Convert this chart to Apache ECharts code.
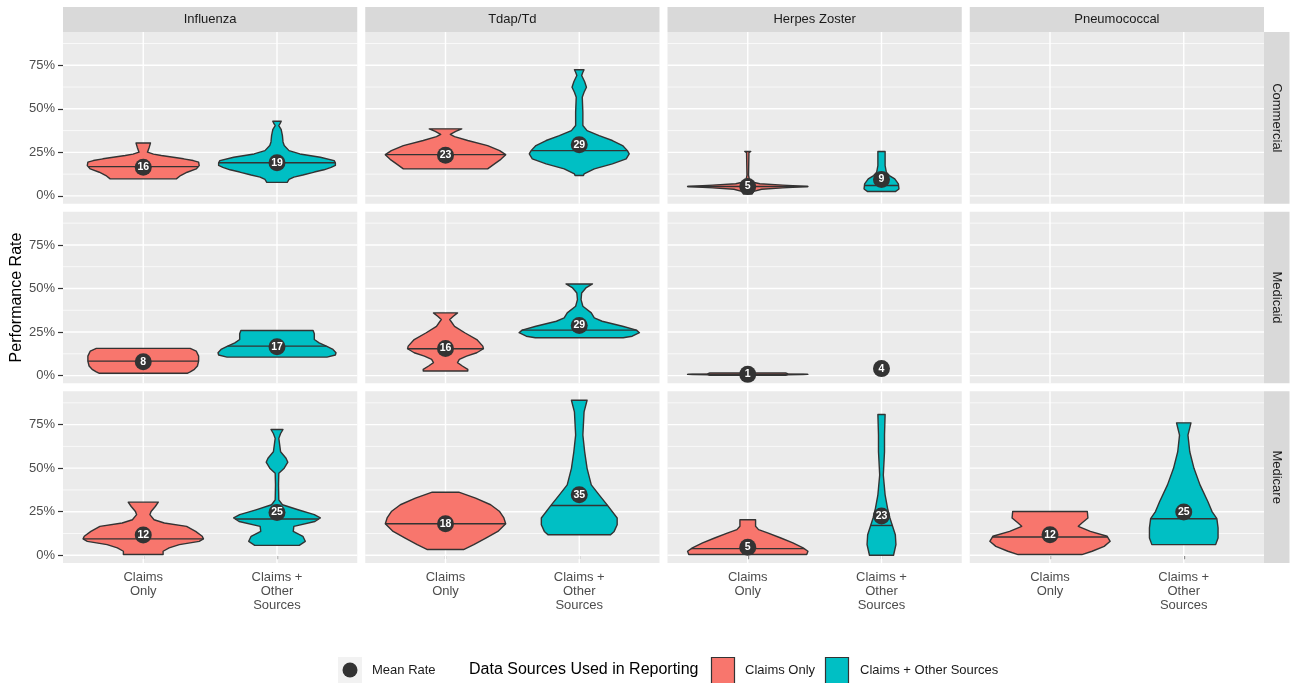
<!DOCTYPE html>
<html><head><meta charset="utf-8">
<script src="https://cdn.jsdelivr.net/npm/echarts@6/dist/echarts.min.js"></script>
<style>html,body{margin:0;padding:0;background:#fff}#c{width:1290px;height:683px}</style>
</head><body><div id="c"></div>
<script>
// ---------------- DATA ----------------
const vaccines = ['Influenza', 'Tdap/Td', 'Herpes Zoster', 'Pneumococcal'];
const payers = ['Commercial', 'Medicaid', 'Medicare'];
const sources = ['Claims Only', 'Claims + Other Sources'];
const xTickLabels = ['Claims\nOnly', 'Claims +\nOther\nSources'];
const yTicks = [0, 25, 50, 75];
const yMinorTicks = [12.5, 37.5, 62.5, 87.5];

// violin outlines: [performance rate %, relative density (100 = widest)]
const comFluClaims = [[30.4,12],[28,10],[25.1,7],[24,17],[23.2,30],[22.2,50],[21.3,67],[20.3,83],[19.4,92],[17.4,93],[15.5,88],[13.6,73],[11.7,62],[9.8,55]];
const comFluOther = [[42.9,7],[41.5,5],[40.4,3],[38,7],[34.6,9],[31,10],[28.9,12],[26,20],[24.1,38],[22.2,72],[20.3,95],[19,97],[17.5,97],[16.4,90],[15,78],[13.7,62],[12,43],[10.8,28],[9.5,20],[7.8,17]];
const comTdapClaims = [[38.5,27],[37,17],[35.3,8],[34,15],[31.8,37],[28.9,70],[26,90],[23.7,100],[21,92],[18.5,82],[15.5,70]];
const comTdapOther = [[72.4,8],[71,6],[69.1,4],[65.5,9],[62.4,12],[59.5,8],[56.7,5],[48.1,6],[40.4,6],[37.5,13],[34.6,33],[31.8,55],[28.9,72],[26,80],[24.1,83],[21.3,78],[18.4,55],[15.5,25],[12.6,8],[11.7,7]];
const comZosterClaims = [[25.5,5],[24.8,2],[12,1.3],[9.8,2.5],[8,7],[7,20],[6.2,58],[5.4,100],[4.6,58],[3.8,23],[2.6,10],[1.1,7]];
const comZosterOther = [[25.5,6],[21.3,6],[17.4,6],[13.6,8],[11.7,13],[9.8,22],[6.9,28],[4,29],[2.5,23]];

const mcdFluClaims = [[15.6,78],[14.1,88],[11.2,92],[8.3,92],[5.5,90],[3.6,85],[2.1,78],[1.3,73]];
const mcdFluOther = [[25.9,60],[24,62],[20.7,62],[18.8,70],[16.9,82],[15,93],[13.1,98],[11.8,97],[10.6,83]];
const mcdTdapClaims = [[36,20],[34.1,13],[32.2,7],[28.3,15],[24.6,32],[20.7,52],[16.9,62],[15.4,63],[13.1,52],[11.2,35],[9.3,23],[7.4,20],[5.5,28],[3.6,37],[2.6,37]];
const mcdTdapOther = [[52.6,22],[50.3,11],[47.4,4],[43.6,3],[39.8,6],[36,20],[33.1,25],[31.2,38],[28.3,72],[26.1,95],[24.6,100],[22.6,88],[21.7,73]];
const mcdZosterClaims = [[1.5,63],[1.0,67],[0.8,92],[0.7,100],[0.6,92],[0.4,67],[0.1,63]];

const mcrFluClaims = [[30.5,25],[28,20],[25.1,13],[23.3,11],[20.4,18],[18.5,35],[16.6,72],[13.7,87],[10.9,98],[9.4,100],[8,93],[6.1,60],[4.2,43],[2.3,33],[0.4,33]];
const mcrFluOther = [[72.2,10],[69.9,6],[67.1,3],[59.4,6],[55.7,15],[53.4,18],[50,12],[47.1,3],[40.4,2.5],[31.8,3],[29,9],[26.1,35],[23.3,62],[21.4,72],[19.4,63],[16.6,28],[13.7,27],[10.9,43],[8,47],[5.7,37]];
const mcrTdapClaims = [[36.2,22],[32.8,50],[29,75],[25.1,90],[21.4,97],[18.1,100],[13.7,87],[9.9,67],[6.1,47],[3.3,30]];
const mcrTdapOther = [[89,13],[82.3,8],[69,6],[59.4,9],[49.9,13],[40.4,20],[34.7,33],[28.6,47],[21.4,63],[17.5,63],[13.7,58],[11.8,52]];
const mcrZosterClaims = [[20.4,13],[16.6,13],[14.7,18],[12.8,33],[9.9,55],[7.1,75],[4.2,92],[2.3,100],[0.4,98]];
const mcrZosterOther = [[80.8,6],[69,5],[59.4,5],[46.1,3],[34.7,6],[27.1,10],[21.4,14],[17.1,18],[11.8,23],[6.1,24],[0,20]];
const mcrPneumoClaims = [[25.1,62],[21.4,63],[18.5,53],[16.6,47],[13.7,67],[10.9,95],[8,100],[5.1,90],[2.3,70],[0.4,53]];
const mcrPneumoOther = [[76,12],[69,7],[59.4,10],[49.9,17],[40.4,27],[30.9,40],[25.1,47],[21,55],[15.7,57],[9.9,57],[6.1,53]];

// medians and means, per vaccine: [Claims Only, Claims + Other Sources]
const medianCommercial = [[16.8,19.0],[23.7,26.0],[5.4,6.0],[null,null]];
const medianMedicaid   = [[8.3,16.9],[15.4,26.1],[0.7,null],[null,null]];
const medianMedicare   = [[9.4,20.8],[18.1,28.6],[3.8,17.1],[10.5,21.0]];
const meanCommercial = [[16.4,19.0],[23.4,29.4],[5.4,9.4],[null,null]];
const meanMedicaid   = [[8.0,16.6],[15.6,28.8],[0.7,4.0],[null,null]];
const meanMedicare   = [[11.6,24.6],[18.1,34.7],[4.6,22.6],[11.8,24.8]];

// ---------------- assembly ----------------
const profiles = [
  [[comFluClaims, comFluOther], [comTdapClaims, comTdapOther], [comZosterClaims, comZosterOther], [null, null]],
  [[mcdFluClaims, mcdFluOther], [mcdTdapClaims, mcdTdapOther], [mcdZosterClaims, null], [null, null]],
  [[mcrFluClaims, mcrFluOther], [mcrTdapClaims, mcrTdapOther], [mcrZosterClaims, mcrZosterOther], [mcrPneumoClaims, mcrPneumoOther]]
];
const medians = [medianCommercial, medianMedicaid, medianMedicare];
const means = [meanCommercial, meanMedicaid, meanMedicare];

const FILLS = ['#F8766D', '#00BFC4'];
const OUTLINE = '#333333';
const FONT = '"Liberation Sans", Arial, sans-serif';
const LAY = {left: 63, top: 32, w: 294.25, h: 171.67, gx: 8, gy: 8};
const Y_MIN = -4.45, Y_MAX = 94.1, X_MIN = 0.4, X_MAX = 2.6, MAX_HALF = 0.45;

function densityAt(profile, v) {
  for (let i = 0; i < profile.length - 1; i++) {
    const [v1, d1] = profile[i], [v2, d2] = profile[i + 1];
    if (v <= v1 && v >= v2) { const t = v1 === v2 ? 0 : (v1 - v) / (v1 - v2); return d1 + (d2 - d1) * t; }
  }
  return 0;
}

const grids = [], xAxes = [], yAxes = [], series = [], graphics = [];
payers.forEach((payer, r) => {
  vaccines.forEach((vac, c) => {
    const gi = grids.length;
    const isBottom = r === payers.length - 1, isLeft = c === 0;
    grids.push({left: LAY.left + c * (LAY.w + LAY.gx), top: LAY.top + r * (LAY.h + LAY.gy), width: LAY.w, height: LAY.h,
      show: true, backgroundColor: '#EBEBEB', borderWidth: 0, containLabel: false});
    xAxes.push({gridIndex: gi, type: 'value', min: X_MIN, max: X_MAX,
      axisLine: {show: false}, splitLine: {show: false},
      axisTick: {show: isBottom, customValues: [1, 2], length: 4, lineStyle: {color: '#333', width: 1.2}},
      axisLabel: {show: isBottom, customValues: [1, 2], formatter: v => xTickLabels[Math.round(v) - 1],
        color: '#4D4D4D', fontSize: 13, lineHeight: 14, margin: 7, fontFamily: FONT}});
    yAxes.push({gridIndex: gi, type: 'value', min: Y_MIN, max: Y_MAX,
      axisLine: {show: false}, splitLine: {show: false},
      axisTick: {show: isLeft, customValues: yTicks, length: 5, lineStyle: {color: '#333', width: 1.2}},
      axisLabel: {show: isLeft, customValues: yTicks, formatter: v => v + '%',
        color: '#4D4D4D', fontSize: 13, margin: 8, fontFamily: FONT}});
    // gridlines
    series.push({type: 'custom', xAxisIndex: gi, yAxisIndex: gi, silent: true, z: 1, clip: false, data: [[1, 0]],
      renderItem: (params, api) => {
        const cs = params.coordSys, ch = [];
        yMinorTicks.forEach(t => { const y = api.coord([X_MIN, t])[1];
          ch.push({type: 'line', shape: {x1: cs.x, y1: y, x2: cs.x + cs.width, y2: y}, style: {stroke: '#FFFFFF', lineWidth: 0.7}}); });
        yTicks.forEach(t => { const y = api.coord([X_MIN, t])[1];
          ch.push({type: 'line', shape: {x1: cs.x, y1: y, x2: cs.x + cs.width, y2: y}, style: {stroke: '#FFFFFF', lineWidth: 1.4}}); });
        [1, 2].forEach(t => { const x = api.coord([t, 0])[0];
          ch.push({type: 'line', shape: {x1: x, y1: cs.y, x2: x, y2: cs.y + cs.height}, style: {stroke: '#FFFFFF', lineWidth: 1.4}}); });
        return {type: 'group', children: ch};
      }});
    // violins
    const items = [];
    sources.forEach((s, si) => {
      const prof = profiles[r][c][si];
      if (prof) items.push({x: si + 1, si, prof, median: medians[r][c][si]});
    });
    if (items.length) {
      series.push({type: 'custom', name: 'violin', xAxisIndex: gi, yAxisIndex: gi, z: 2, clip: false,
        data: items.map(it => [it.x, it.median == null ? 0 : it.median]),
        renderItem: (params, api) => {
          const it = items[params.dataIndex];
          const left = [], right = [];
          it.prof.forEach(([v, d]) => {
            const hw = d / 100 * MAX_HALF;
            left.push(api.coord([it.x - hw, v]));
            right.push(api.coord([it.x + hw, v]));
          });
          const pts = left.concat(right.reverse());
          const ch = [{type: 'polygon', shape: {points: pts}, style: {fill: FILLS[it.si], stroke: OUTLINE, lineWidth: 1.4, lineJoin: 'round'}}];
          if (it.median != null) {
            const hw = densityAt(it.prof, it.median) / 100 * MAX_HALF;
            const a = api.coord([it.x - hw, it.median]), b = api.coord([it.x + hw, it.median]);
            ch.push({type: 'line', shape: {x1: a[0], y1: a[1], x2: b[0], y2: b[1]}, style: {stroke: OUTLINE, lineWidth: 1.4}});
          }
          return {type: 'group', children: ch};
        }});
    }
    // means
    const mData = [];
    sources.forEach((s, si) => { const m = means[r][c][si]; if (m != null) mData.push([si + 1, m]); });
    if (mData.length) {
      series.push({type: 'scatter', name: 'Mean Rate', xAxisIndex: gi, yAxisIndex: gi, z: 5, symbol: 'circle', symbolSize: 17,
        itemStyle: {color: '#333333', opacity: 1}, data: mData, silent: true,
        label: {show: true, position: 'inside', formatter: p => String(Math.round(p.value[1])),
          color: '#FFFFFF', fontWeight: 'bold', fontSize: 10.5, fontFamily: FONT}});
    }
  });
});

// strips
vaccines.forEach((vac, c) => {
  const x = LAY.left + c * (LAY.w + LAY.gx);
  graphics.push({type: 'rect', shape: {x: x, y: 7, width: LAY.w, height: 25}, style: {fill: '#D9D9D9'}, silent: true});
  graphics.push({type: 'text', x: x + LAY.w / 2, y: 19.5, silent: true,
    style: {text: vac, fill: '#1A1A1A', font: '13px ' + FONT, align: 'center', verticalAlign: 'middle', textAlign: 'center', textVerticalAlign: 'middle'}});
});
const stripX = LAY.left + 4 * LAY.w + 3 * LAY.gx;
payers.forEach((p, r) => {
  const y = LAY.top + r * (LAY.h + LAY.gy);
  graphics.push({type: 'rect', shape: {x: stripX, y: y, width: 25.5, height: LAY.h}, style: {fill: '#D9D9D9'}, silent: true});
  graphics.push({type: 'text', x: stripX + 13, y: y + LAY.h / 2, rotation: -Math.PI / 2, silent: true,
    style: {text: p, fill: '#1A1A1A', font: '13px ' + FONT, align: 'center', verticalAlign: 'middle', textAlign: 'center', textVerticalAlign: 'middle'}});
});
// y title
graphics.push({type: 'text', x: 17, y: LAY.top + (3 * LAY.h + 2 * LAY.gy) / 2, rotation: Math.PI / 2, silent: true,
  style: {text: 'Performance Rate', fill: '#000', font: '16px ' + FONT, align: 'center', verticalAlign: 'middle', textAlign: 'center', textVerticalAlign: 'middle'}});
// legend
const LY = 670;
graphics.push({type: 'rect', shape: {x: 338, y: 657, width: 24, height: 27}, style: {fill: '#F2F2F2'}, silent: true});
graphics.push({type: 'circle', shape: {cx: 350, cy: LY, r: 7.5}, style: {fill: '#333333'}, silent: true});
graphics.push({type: 'text', x: 372, y: LY, silent: true, style: {text: 'Mean Rate', fill: '#1A1A1A', font: '13px ' + FONT, verticalAlign: 'middle', textVerticalAlign: 'middle'}});
graphics.push({type: 'text', x: 469, y: LY, silent: true, style: {text: 'Data Sources Used in Reporting', fill: '#000', font: '16px ' + FONT, verticalAlign: 'middle', textVerticalAlign: 'middle'}});
graphics.push({type: 'rect', shape: {x: 711.5, y: 657.5, width: 23, height: 27}, style: {fill: FILLS[0], stroke: OUTLINE, lineWidth: 1.2}, silent: true});
graphics.push({type: 'text', x: 745, y: LY, silent: true, style: {text: sources[0], fill: '#1A1A1A', font: '13px ' + FONT, verticalAlign: 'middle', textVerticalAlign: 'middle'}});
graphics.push({type: 'rect', shape: {x: 825.5, y: 657.5, width: 23, height: 27}, style: {fill: FILLS[1], stroke: OUTLINE, lineWidth: 1.2}, silent: true});
graphics.push({type: 'text', x: 860, y: LY, silent: true, style: {text: sources[1], fill: '#1A1A1A', font: '13px ' + FONT, verticalAlign: 'middle', textVerticalAlign: 'middle'}});

const chart = echarts.init(document.getElementById('c'), null, {renderer: 'canvas'});
chart.setOption({
  animation: false,
  backgroundColor: '#FFFFFF',
  textStyle: {fontFamily: FONT},
  grid: grids, xAxis: xAxes, yAxis: yAxes, series: series,
  graphic: {elements: graphics}
});
</script>
</body></html>
